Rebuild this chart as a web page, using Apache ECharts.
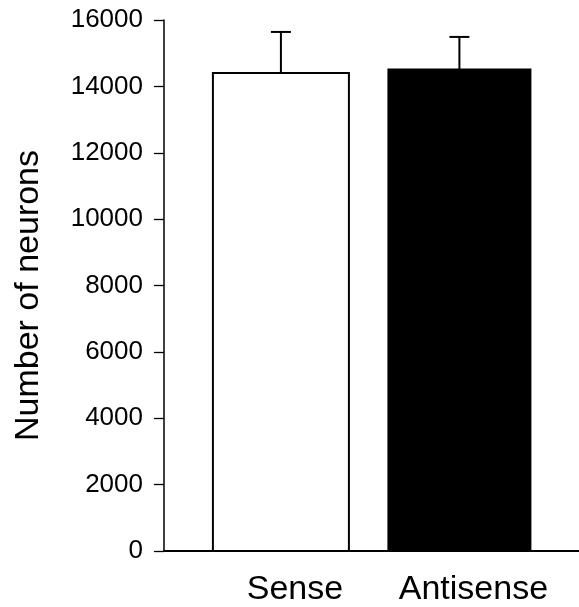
<!DOCTYPE html>
<html><head><meta charset="utf-8">
<script src="https://cdn.jsdelivr.net/npm/echarts@6/dist/echarts.min.js"></script>
<style>html,body{margin:0;padding:0;background:#fff}#c{width:579px;height:607px}</style>
</head><body><div id="c"></div>
<script>
// ---- data ----
const categories = ['Sense', 'Antisense'];
const means = [14400, 14510];
const errors = [1240, 980];
const yTickMin = 0, yTickMax = 16000, yTickStep = 2000;
const yAxisTitle = 'Number of neurons';

// ---- styles (not data) ----
const barLook = [
  { fill: '#ffffff', width: 136 },
  { fill: '#000000', width: 142 }
];
const capWidth = 20;
const FONT = '"Liberation Sans", Arial, Helvetica, sans-serif';

const chart = echarts.init(document.getElementById('c'), null, { renderer: 'canvas' });

const seriesData = categories.map((c, i) => [i + 1, means[i], errors[i]]);

chart.setOption({
  animation: false,
  backgroundColor: '#ffffff',
  grid: { left: 164, right: 0, top: 20, bottom: 56, containLabel: false },
  xAxis: {
    type: 'value',
    min: 0.345,
    max: 2.67,
    axisLine: { show: true, onZero: false, lineStyle: { color: '#000', width: 2 } },
    axisTick: { show: false },
    splitLine: { show: false },
    axisLabel: {
      customValues: [1, 2],
      formatter: v => categories[Math.round(v) - 1] || '',
      color: '#000', fontFamily: FONT, fontSize: 34, margin: 22,
      padding: [0, 0, 0, 28]
    }
  },
  yAxis: {
    type: 'value',
    min: yTickMin, max: yTickMax, interval: yTickStep,
    name: yAxisTitle,
    nameLocation: 'middle',
    nameGap: 118,
    nameTextStyle: { color: '#000', fontFamily: FONT, fontSize: 34, padding: [0, 20, 0, 0] },
    axisLine: { show: true, lineStyle: { color: '#000', width: 1.5 } },
    axisTick: { show: true, inside: false, length: 10, lineStyle: { color: '#000', width: 1.3 } },
    splitLine: { show: false },
    axisLabel: { color: '#000', fontFamily: FONT, fontSize: 26, margin: 21, formatter: v => String(v) }
  },
  series: [{
    type: 'custom',
    data: seriesData,
    encode: { x: 0, y: 1 },
    renderItem: function (params, api) {
      const x = api.value(0), v = api.value(1), e = api.value(2);
      const top = api.coord([x, v]);
      const base = api.coord([x, 0]);
      const et = api.coord([x, v + e]);
      const look = barLook[params.dataIndex];
      const w = look.width;
      return {
        type: 'group',
        children: [
          { type: 'line', shape: { x1: top[0], y1: top[1], x2: et[0], y2: et[1] },
            style: { stroke: '#000', lineWidth: 2 } },
          { type: 'line', shape: { x1: et[0] - capWidth / 2, y1: et[1], x2: et[0] + capWidth / 2, y2: et[1] },
            style: { stroke: '#000', lineWidth: 2 } },
          { type: 'rect', shape: { x: top[0] - w / 2, y: top[1], width: w, height: base[1] - top[1] },
            style: { fill: look.fill, stroke: '#000', lineWidth: 2 } }
        ]
      };
    }
  }]
});
</script>
</body></html>
